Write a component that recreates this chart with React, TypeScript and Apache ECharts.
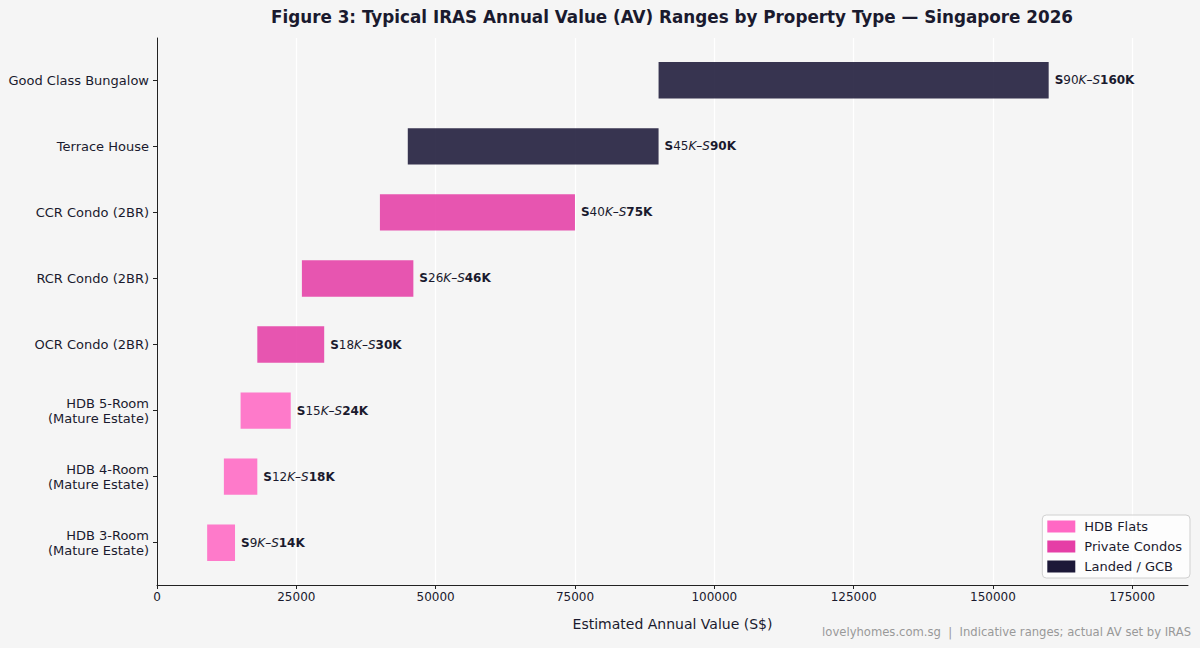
import React, { useEffect, useRef } from "react";
import * as echarts from "echarts";

const categories = [
  "Good Class Bungalow",
  "Terrace House",
  "CCR Condo (2BR)",
  "RCR Condo (2BR)",
  "OCR Condo (2BR)",
  "HDB 5-Room\n(Mature Estate)",
  "HDB 4-Room\n(Mature Estate)",
  "HDB 3-Room\n(Mature Estate)",
];
const lowValues = [90000, 45000, 40000, 26000, 18000, 15000, 12000, 9000];
const highValues = [160000, 90000, 75000, 46000, 30000, 24000, 18000, 14000];
const groups = ["Landed / GCB", "Landed / GCB", "Private Condos", "Private Condos", "Private Condos", "HDB Flats", "HDB Flats", "HDB Flats"];
const groupNames = ["HDB Flats", "Private Condos", "Landed / GCB"];
const groupColors = ["#FF68C4", "#E53EA6", "#1C1838"];
const xTicks = [0, 25000, 50000, 75000, 100000, 125000, 150000, 175000];

const TEXT = "#1a1a2e";
const FONT = "DejaVu Sans";

export default function App() {
  const ref = useRef<HTMLDivElement>(null);
  useEffect(() => {
    if (!ref.current) return;
    const chart = echarts.init(ref.current, undefined, { renderer: "svg" });
    const series = groupNames.map((g, gi) => ({
      type: "custom",
      name: g,
      itemStyle: { color: groupColors[gi] },
      encode: { x: [0, 1], y: 2 },
      data: categories
        .map((_, i) => i)
        .filter((i) => groups[i] === g)
        .map((i) => [lowValues[i], highValues[i], i]),
      renderItem: (params: any, api: any) => {
        const lo = api.value(0);
        const hi = api.value(1);
        const idx = api.value(2);
        const p0 = api.coord([lo, idx]);
        const p1 = api.coord([hi, idx]);
        const h = Math.abs(api.size([0, 1])[1]) * 0.55;
        const txt = `{b|S}{n|${lo / 1000}}{i|K–S}{b|${hi / 1000}K}`;
        return {
          type: "group",
          children: [
            {
              type: "rect",
              shape: { x: p0[0], y: p0[1] - h / 2, width: p1[0] - p0[0], height: h },
              style: { fill: api.visual("color"), opacity: 0.875 },
            },
            {
              type: "text",
              x: p1[0] + 6,
              y: p1[1],
              style: {
                text: txt,
                verticalAlign: "middle",
                align: "left",
                fill: TEXT,
                fontFamily: FONT,
                fontSize: 12,
                rich: {
                  b: { fontWeight: "bold", fontSize: 12, fontFamily: FONT, fill: TEXT },
                  n: { fontSize: 12, fontFamily: FONT, fill: TEXT },
                  i: { fontStyle: "italic", fontSize: 12, fontFamily: FONT, fill: TEXT },
                },
              },
            },
          ],
        };
      },
    }));

    chart.setOption({
      animation: false,
      backgroundColor: "#F5F5F5",
      textStyle: { fontFamily: FONT },
      grid: { left: 157, right: 12, top: 38, bottom: 63, containLabel: false },
      xAxis: {
        type: "value",
        min: 0,
        max: 185000,
        interval: 25000,
        axisLine: { show: true, onZero: false, lineStyle: { color: "#222", width: 1 } },
        axisTick: { show: true, length: 4, lineStyle: { color: "#222" }, customValues: xTicks },
        axisLabel: {
          color: TEXT,
          fontSize: 12,
          margin: 6,
          fontFamily: FONT,
          customValues: xTicks,
          formatter: (v: number) => String(v),
        },
        splitLine: { show: true, lineStyle: { color: "#ffffff", width: 1.2 } },
        name: "Estimated Annual Value (S$)",
        nameLocation: "middle",
        nameGap: 32,
        nameTextStyle: { color: TEXT, fontSize: 14, fontFamily: FONT },
      },
      yAxis: {
        type: "value",
        inverse: true,
        min: -0.64,
        max: 7.64,
        axisLine: { show: true, onZero: false, lineStyle: { color: "#222", width: 1 } },
        axisTick: { show: true, length: 4, lineStyle: { color: "#222" }, customValues: categories.map((_, i) => i) },
        axisLabel: {
          color: TEXT,
          fontSize: 13,
          margin: 8,
          fontFamily: FONT,
          lineHeight: 15,
          customValues: categories.map((_, i) => i),
          formatter: (v: number) => categories[Math.round(v)] ?? "",
        },
        splitLine: { show: false },
      },
      legend: {
        data: groupNames.map((n) => ({ name: n, icon: "rect" })),
        orient: "vertical",
        right: 10,
        bottom: 70,
        itemWidth: 28,
        itemHeight: 12,
        itemGap: 7,
        padding: [5, 8, 5, 5],
        backgroundColor: "rgba(255,255,255,0.8)",
        borderColor: "#d0d0d0",
        borderWidth: 1,
        borderRadius: 4,
        textStyle: { color: TEXT, fontSize: 13, fontFamily: FONT, padding: [0, 0, 0, 4] },
      },
      graphic: [
        {
          type: "text",
          x: 672,
          y: 17,
          style: {
            text: "Figure 3: Typical IRAS Annual Value (AV) Ranges by Property Type — Singapore 2026",
            align: "center",
            verticalAlign: "middle",
            fontSize: 16.8,
            fontWeight: "bold",
            fontFamily: FONT,
            fill: TEXT,
          },
        },
        {
          type: "text",
          right: 9,
          bottom: 10,
          style: {
            text: "lovelyhomes.com.sg  |  Indicative ranges; actual AV set by IRAS",
            fontSize: 11.6,
            fontFamily: FONT,
            fill: "#999999",
          },
        },
      ],
      series,
    });
    return () => chart.dispose();
  }, []);
  return <div ref={ref} style={{ position: "fixed", left: 0, top: 0, width: 1200, height: 648 }} />;
}
